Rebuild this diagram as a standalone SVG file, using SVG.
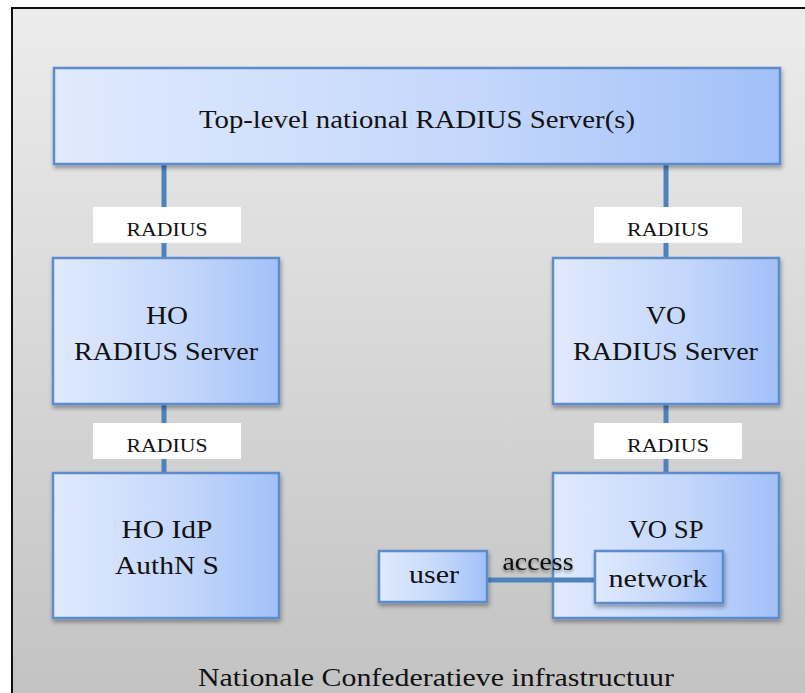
<svg xmlns="http://www.w3.org/2000/svg" width="805" height="693" viewBox="0 0 805 693">
<defs>
<linearGradient id="bg" x1="0" y1="0" x2="0" y2="1">
<stop offset="0" stop-color="#ececec"/>
<stop offset="1" stop-color="#c2c2c2"/>
</linearGradient>
<linearGradient id="box" x1="0" y1="0" x2="1" y2="0">
<stop offset="0" stop-color="#e0eafd"/>
<stop offset="0.6" stop-color="#c3d6fb"/>
<stop offset="1" stop-color="#a2c0f8"/>
</linearGradient>
<filter id="sh" x="-10%" y="-10%" width="130%" height="130%">
<feDropShadow dx="1" dy="3" stdDeviation="2" flood-color="#000" flood-opacity="0.35"/>
</filter>
<filter id="tsh" x="-20%" y="-40%" width="140%" height="180%">
<feDropShadow dx="0" dy="2" stdDeviation="1.5" flood-color="#000" flood-opacity="0.45"/>
</filter>
</defs>
<style>
.node{fill:url(#box);stroke:#5b8ccc;stroke-width:2.5;filter:url(#sh)}
.t{font-family:"Liberation Serif","Times New Roman",serif;fill:#111;text-anchor:middle}
.big{font-size:25px}
.sm{font-size:18px}
.conn{stroke:#4f81bd;stroke-width:5;fill:none}
.lbl{fill:#fff}
</style>
<rect x="0" y="0" width="805" height="693" fill="#fff"/>
<rect x="12" y="8" width="800" height="700" fill="url(#bg)" stroke="#111" stroke-width="2"/>
<text class="t big" x="436" y="686" textLength="476" lengthAdjust="spacingAndGlyphs">Nationale Confederatieve infrastructuur</text>

<g id="connectors">
<line class="conn" x1="164" y1="164" x2="164" y2="258"/>
<line class="conn" x1="666" y1="164" x2="666" y2="258"/>
<line class="conn" x1="164" y1="404" x2="164" y2="473"/>
<line class="conn" x1="666" y1="404" x2="666" y2="473"/>
<rect class="lbl" x="93" y="207" width="148" height="36"/>
<text class="t sm" x="167" y="236" textLength="81" lengthAdjust="spacingAndGlyphs">RADIUS</text>
<rect class="lbl" x="594" y="207" width="148" height="36"/>
<text class="t sm" x="668" y="236" textLength="82" lengthAdjust="spacingAndGlyphs">RADIUS</text>
<rect class="lbl" x="93" y="423" width="148" height="36"/>
<text class="t sm" x="167" y="452" textLength="81" lengthAdjust="spacingAndGlyphs">RADIUS</text>
<rect class="lbl" x="594" y="423" width="148" height="36"/>
<text class="t sm" x="668" y="452" textLength="82" lengthAdjust="spacingAndGlyphs">RADIUS</text>
</g>

<g id="top">
<rect class="node" x="54" y="68" width="726" height="96"/>
<text class="t big" x="417" y="128" textLength="436" lengthAdjust="spacingAndGlyphs">Top-level national RADIUS Server(s)</text>
</g>

<g id="ho-radius">
<rect class="node" x="53" y="258" width="226" height="146"/>
<text class="t big" x="167" y="324" textLength="42" lengthAdjust="spacingAndGlyphs">HO</text>
<text class="t big" x="166" y="360" textLength="184" lengthAdjust="spacingAndGlyphs">RADIUS Server</text>
</g>

<g id="vo-radius">
<rect class="node" x="553" y="258" width="226" height="146"/>
<text class="t big" x="666" y="324" textLength="40" lengthAdjust="spacingAndGlyphs">VO</text>
<text class="t big" x="665.5" y="360" textLength="185" lengthAdjust="spacingAndGlyphs">RADIUS Server</text>
</g>

<g id="ho-idp">
<rect class="node" x="53" y="473" width="226" height="145"/>
<text class="t big" x="167" y="538" textLength="91" lengthAdjust="spacingAndGlyphs">HO IdP</text>
<text class="t big" x="167" y="574" textLength="104" lengthAdjust="spacingAndGlyphs">AuthN S</text>
</g>

<g id="vo-sp">
<rect class="node" x="553" y="473" width="226" height="145"/>
<text class="t big" x="666" y="538" textLength="75" lengthAdjust="spacingAndGlyphs">VO SP</text>
</g>

<g id="access-link">
<line class="conn" x1="487" y1="580" x2="595" y2="580"/>
<text class="t big" x="538" y="570" textLength="71" lengthAdjust="spacingAndGlyphs" filter="url(#tsh)">access</text>
</g>

<g id="user">
<rect class="node" x="379" y="551" width="108" height="51"/>
<text class="t big" x="434" y="583" textLength="50" lengthAdjust="spacingAndGlyphs">user</text>
</g>

<g id="network">
<rect class="node" x="595" y="551" width="128" height="52"/>
<text class="t big" x="658" y="587" textLength="99" lengthAdjust="spacingAndGlyphs">network</text>
</g>
</svg>
